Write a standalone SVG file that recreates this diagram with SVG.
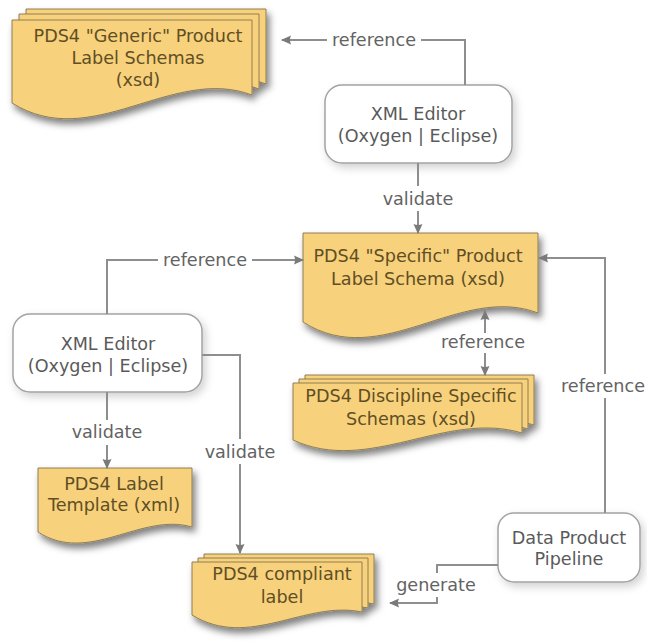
<svg xmlns="http://www.w3.org/2000/svg" width="647" height="642" viewBox="0 0 647 642">
<defs>
<filter id="sh" x="-10%" y="-10%" width="130%" height="140%"><feDropShadow dx="3" dy="5" stdDeviation="3.5" flood-color="#000" flood-opacity="0.5"/></filter>
<filter id="sh2" x="-10%" y="-10%" width="130%" height="140%"><feDropShadow dx="3" dy="4" stdDeviation="4" flood-color="#000" flood-opacity="0.18"/></filter>
<marker id="ah" viewBox="0 0 10 10" refX="9" refY="5" markerWidth="10" markerHeight="10" markerUnits="userSpaceOnUse" orient="auto-start-reverse"><path d="M0,0.5 L10,5 L0,9.5 Q2,5 0,0.5 Z" fill="#7a7a7a"/></marker>
</defs>
<style>
.doc{fill:#F8D17B;stroke:#8f7f55;stroke-width:1}
.box{fill:#ffffff;stroke:#a3a3a3;stroke-width:1.5}
.dt{font-family:"DejaVu Sans",Verdana,sans-serif;font-size:17.6px;fill:#5f4f25;text-anchor:middle}
.bt{font-family:"DejaVu Sans",Verdana,sans-serif;font-size:17.6px;fill:#5a5a5a;text-anchor:middle}
.lt{font-family:"DejaVu Sans",Verdana,sans-serif;font-size:17.6px;fill:#636363;text-anchor:middle}
.ln{fill:none;stroke:#8e8e8e;stroke-width:2}
</style>
<g id="generic" filter="url(#sh)">
<path class="doc" d="M26,9 H266 V84 C186,54 106,142 26,92 Z"/>
<path class="doc" d="M19,14 H259 V89 C179,59 99,147 19,97 Z"/>
<path class="doc" d="M12,20 H252 V95 C172,65 92,153 12,103 Z"/>
</g>
<g id="generic-text">
<text class="dt" x="138" y="42">PDS4 "Generic" Product</text>
<text class="dt" x="138" y="64">Label Schemas</text>
<text class="dt" x="138" y="86">(xsd)</text>
</g>
<g id="editor1">
<rect class="box" x="325" y="85" width="187" height="78" rx="17" filter="url(#sh2)"/>
<text class="bt" x="418" y="120">XML Editor</text>
<text class="bt" x="418" y="142">(Oxygen | Eclipse)</text>
</g>
<g id="specific">
<path class="doc" filter="url(#sh)" d="M303,233 H538 V313 C460,283 381,372 303,322 Z"/>
<text class="dt" x="418" y="262">PDS4 "Specific" Product</text>
<text class="dt" x="418" y="285">Label Schema (xsd)</text>
</g>
<g id="discipline">
<g filter="url(#sh)">
<path class="doc" d="M305,375 H534 V425 C458,402 381,467 305,432 Z"/>
<path class="doc" d="M299,379 H528 V429 C452,406 375,471 299,436 Z"/>
<path class="doc" d="M293,383 H522 V433 C446,410 369,475 293,440 Z"/>
</g>
<text class="dt" x="411" y="402">PDS4 Discipline Specific</text>
<text class="dt" x="411" y="425">Schemas (xsd)</text>
</g>
<g id="editor2">
<rect class="box" x="13" y="314" width="189" height="78" rx="17" filter="url(#sh2)"/>
<text class="bt" x="108" y="350">XML Editor</text>
<text class="bt" x="108" y="372">(Oxygen | Eclipse)</text>
</g>
<g id="template">
<path class="doc" filter="url(#sh)" d="M38,468 H192 V527 C141,512 89,565 38,532 Z"/>
<text class="dt" x="114" y="490">PDS4 Label</text>
<text class="dt" x="114" y="511">Template (xml)</text>
</g>
<g id="compliant">
<g filter="url(#sh)">
<path class="doc" d="M204,554 H374 V604 C317,592 261,642 204,607 Z"/>
<path class="doc" d="M198,558 H368 V608 C311,596 255,646 198,611 Z"/>
<path class="doc" d="M192,562 H362 V612 C305,600 249,650 192,615 Z"/>
</g>
<text class="dt" x="282" y="580">PDS4 compliant</text>
<text class="dt" x="282" y="603">label</text>
</g>
<g id="pipeline">
<rect class="box" x="498" y="513" width="142" height="69" rx="16" filter="url(#sh2)"/>
<text class="bt" x="569" y="544">Data Product</text>
<text class="bt" x="569" y="565">Pipeline</text>
</g>
<g id="connectors">
<path class="ln" d="M465,85 V40 H421"/>
<path class="ln" d="M327,40 H282" marker-end="url(#ah)"/>
<text class="lt" x="374" y="46">reference</text>
<path class="ln" d="M418,163 V186"/>
<path class="ln" d="M418,211 V233" marker-end="url(#ah)"/>
<text class="lt" x="418" y="205">validate</text>
<path class="ln" d="M107,314 V260 H158"/>
<path class="ln" d="M252,260 H303" marker-end="url(#ah)"/>
<text class="lt" x="205" y="266">reference</text>
<path class="ln" d="M605,513 V398"/>
<path class="ln" d="M605,374 V258 H539" marker-end="url(#ah)"/>
<text class="lt" x="603" y="392">reference</text>
<path class="ln" d="M485,333 V311" marker-end="url(#ah)"/>
<path class="ln" d="M485,353 V375" marker-end="url(#ah)"/>
<text class="lt" x="483" y="348">reference</text>
<path class="ln" d="M107,392 V420"/>
<path class="ln" d="M107,445 V468" marker-end="url(#ah)"/>
<text class="lt" x="107" y="438">validate</text>
<path class="ln" d="M202,355 H240 V439"/>
<path class="ln" d="M240,464 V553" marker-end="url(#ah)"/>
<text class="lt" x="240" y="458">validate</text>
<path class="ln" d="M498,565 H437 V573"/>
<path class="ln" d="M437,597 V603 H390" marker-end="url(#ah)"/>
<text class="lt" x="436" y="591">generate</text>
</g>
</svg>
